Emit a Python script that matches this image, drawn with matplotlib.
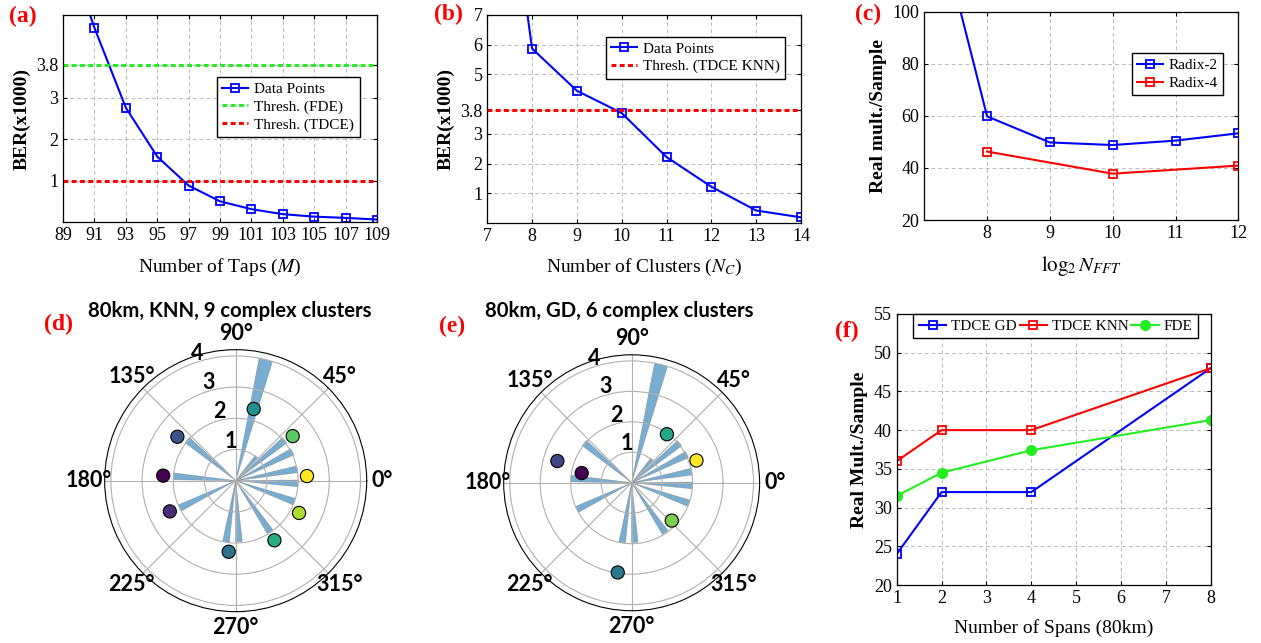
import numpy as np
import matplotlib
matplotlib.use("Agg")
import matplotlib.pyplot as plt

plt.rcParams['font.family'] = ['Liberation Serif', 'DejaVu Serif']
plt.rcParams['mathtext.fontset'] = 'stix'

# (a) BER vs number of taps
taps = [89, 91, 93, 95, 97, 99, 101, 103, 105, 107, 109]
ber_taps = [6.9, 4.69, 2.76, 1.58, 0.88, 0.50, 0.31, 0.19, 0.13, 0.10, 0.06]
thr_fde = 3.8
thr_tdce = 1.0

# (b) BER vs number of clusters
clusters = [7, 8, 9, 10, 11, 12, 13, 14]
ber_clusters = [17.0, 5.87, 4.45, 3.70, 2.22, 1.22, 0.42, 0.19]
thr_knn = 3.8

# (c) FFT complexity
log_nfft = [7, 8, 9, 10, 11, 12]
radix2 = [155, 59.8, 49.8, 48.8, 50.5, 53.3]
log_nfft4 = [8, 10, 12]
radix4 = [46.3, 37.8, 40.9]

# (d)/(e) polar: tap phases / magnitudes and cluster centres
tap_deg = [76, 49, 39.5, 27, 10.5, -2.5, -19.7, -56, -87, -99, 206, 176, 140]
tap_mag = [3.99, 1.02, 2.04, 2.04, 2.01, 2.0, 2.0, 1.97, 1.96, 1.98, 1.99, 2.0, 2.03]
knn_deg = [176, 205, 143, 264.4, 75.9, 303, 38, 333, 3.7]
knn_r = [2.33, 2.33, 2.34, 2.29, 2.37, 2.28, 2.32, 2.28, 2.29]
gd_deg = [169, 163.7, 261.2, 54, 316.7, 19]
gd_r = [1.67, 2.54, 2.98, 1.97, 1.81, 2.25]

# (f) complexity vs spans
spans = [1, 2, 4, 8]
tdce_gd = [24, 32, 32, 48]
tdce_knn = [36, 40, 40, 48]
fde = [31.5, 34.5, 37.4, 41.3]

fig = plt.figure(figsize=(12.61, 6.43), dpi=100)

grid_kw = dict(color='#bbbbbb', linestyle=(0, (4, 3)), linewidth=0.7)
leg_kw = dict(fancybox=False, edgecolor='black', framealpha=1, fontsize=11,
              borderaxespad=0, handlelength=1.7, labelspacing=0.25, borderpad=0.35,
              handletextpad=0.4)


def style(ax):
    ax.grid(True, **grid_kw)
    ax.set_axisbelow(True)
    ax.tick_params(direction='in', top=True, right=True, length=3, labelsize=13)
    for s in ax.spines.values():
        s.set_linewidth(0.9)


thr_style = dict(linewidth=2.2, dashes=(1.6, 1.1))
line_kw = dict(mfc='none', ms=6, mew=1.3, lw=1.5)

# (a)
ax = fig.add_axes([0.05, 0.6547, 0.249, 0.322])
ax.plot(taps, ber_taps, '-s', color='blue', label='Data Points', **line_kw)
ax.axhline(thr_fde, color='#22ee22', label='Thresh. (FDE)', **thr_style)
ax.axhline(thr_tdce, color='red', label='Thresh. (TDCE)', **thr_style)
ax.set_xlim(89, 109)
ax.set_ylim(0, 5)
ax.set_xticks(taps)
ax.set_yticks([1, 2, 3, 3.8])
ax.set_yticklabels(['1', '2', '3', '3.8'])
ax.set_xlabel('Number of Taps ($M$)', fontsize=14, labelpad=9)
ax.set_ylabel('BER(x1000)', fontsize=14, fontweight='bold')
style(ax)
ax.legend(loc='upper left', bbox_to_anchor=(0.49, 0.70), **leg_kw)

# (b)
ax = fig.add_axes([0.3864, 0.6532, 0.2488, 0.3235])
ax.plot(clusters, ber_clusters, '-s', color='blue', label='Data Points', **line_kw)
ax.axhline(thr_knn, color='red', label='Thresh. (TDCE KNN)', **thr_style)
ax.set_xlim(7, 14)
ax.set_ylim(0, 7)
ax.set_xticks(clusters)
ax.set_yticks([1, 2, 3, 3.8, 5, 6, 7])
ax.set_yticklabels(['1', '2', '3', '3.8', '5', '6', '7'])
ax.set_xlabel('Number of Clusters ($N_C$)', fontsize=14, labelpad=9)
ax.set_ylabel('BER(x1000)', fontsize=14, fontweight='bold')
style(ax)
ax.legend(loc='upper left', bbox_to_anchor=(0.377, 0.896), **leg_kw)

# (c)
ax = fig.add_axes([0.733, 0.6578, 0.249, 0.324])
ax.plot(log_nfft, radix2, '-s', color='blue', label='Radix-2', **line_kw)
ax.plot(log_nfft4, radix4, '-s', color='red', label='Radix-4', **line_kw)
ax.set_xlim(7, 12)
ax.set_ylim(20, 100)
ax.set_xticks([8, 9, 10, 11, 12])
ax.set_yticks([20, 40, 60, 80, 100])
ax.set_xlabel(r'$\log_2 N_{FFT}$', fontsize=15, labelpad=9)
ax.set_ylabel('Real mult./Sample', fontsize=14, fontweight='bold')
style(ax)
ax.legend(loc='upper left', bbox_to_anchor=(0.66, 0.80), **leg_kw)

# (f)
ax = fig.add_axes([0.7111, 0.0902, 0.249, 0.4215])
ax.plot(spans, tdce_gd, '-s', color='blue', label='TDCE GD', **line_kw)
ax.plot(spans, tdce_knn, '-s', color='red', label='TDCE KNN', **line_kw)
ax.plot(spans, fde, '-o', color='#22ee22', ms=7, lw=1.5, label='FDE')
ax.set_xlim(1, 8)
ax.set_ylim(20, 55)
ax.set_xticks(range(1, 9))
ax.set_yticks(range(20, 56, 5))
ax.set_xlabel('Number of Spans (80km)', fontsize=14, labelpad=9)
ax.set_ylabel('Real Mult./Sample', fontsize=14, fontweight='bold')
style(ax)
lk = dict(leg_kw)
lk['handlelength'] = 1.8
lk['handletextpad'] = 0.3
ax.legend(loc='upper center', bbox_to_anchor=(0.506, 1.0), ncol=3, columnspacing=0.2, **lk)

# polar panels
polar_font = ['Lato', 'DejaVu Sans']


def polar(rect, pts_deg, pts_r, title, tx):
    ax = fig.add_axes(rect, projection='polar')
    th = np.deg2rad(tap_deg)
    ax.bar(th, tap_mag, width=0.11, color='#1f77b4', alpha=0.6, edgecolor='#777777', linewidth=0.4)
    n = len(pts_deg)
    ax.scatter(np.deg2rad(pts_deg), pts_r, c=np.arange(n), cmap='viridis', s=90,
               edgecolors='black', linewidths=0.8, zorder=3)
    ax.set_ylim(0, 4.2)
    ax.set_yticks([1, 2, 3, 4])
    ax.set_rlabel_position(111)
    ax.set_thetagrids(range(0, 360, 45), [f'{a}°' for a in range(0, 360, 45)])
    for lab in ax.get_xticklabels() + ax.get_yticklabels():
        lab.set_fontfamily(polar_font)
        lab.set_fontweight('bold')
        lab.set_fontsize(15.5)
    ax.tick_params(axis='x', pad=1)
    ax.grid(True, color='#b0b0b0', linewidth=0.8)
    fig.text(tx, 1 - 311 / 643, title, ha='center', va='center', fontsize=14.6,
             fontweight='bold', family=polar_font)
    return ax


polar([0.083, 0.0487, 0.2078, 0.4075], knn_deg, knn_r, '80km, KNN, 9 complex clusters', 230 / 1261)
polar([0.3994, 0.0502, 0.203, 0.398], gd_deg, gd_r, '80km, GD, 6 complex clusters', 619 / 1261)

# panel labels
for lab, (px, py) in {'(a)': (23, 16), '(b)': (448, 14), '(c)': (868, 14),
                      '(d)': (58, 324), '(e)': (452, 326), '(f)': (847, 331)}.items():
    fig.text(px / 1261, 1 - py / 643, lab, color='red', fontsize=17, fontweight='bold',
             ha='center', va='center')

fig.savefig('out.png', dpi=100)
